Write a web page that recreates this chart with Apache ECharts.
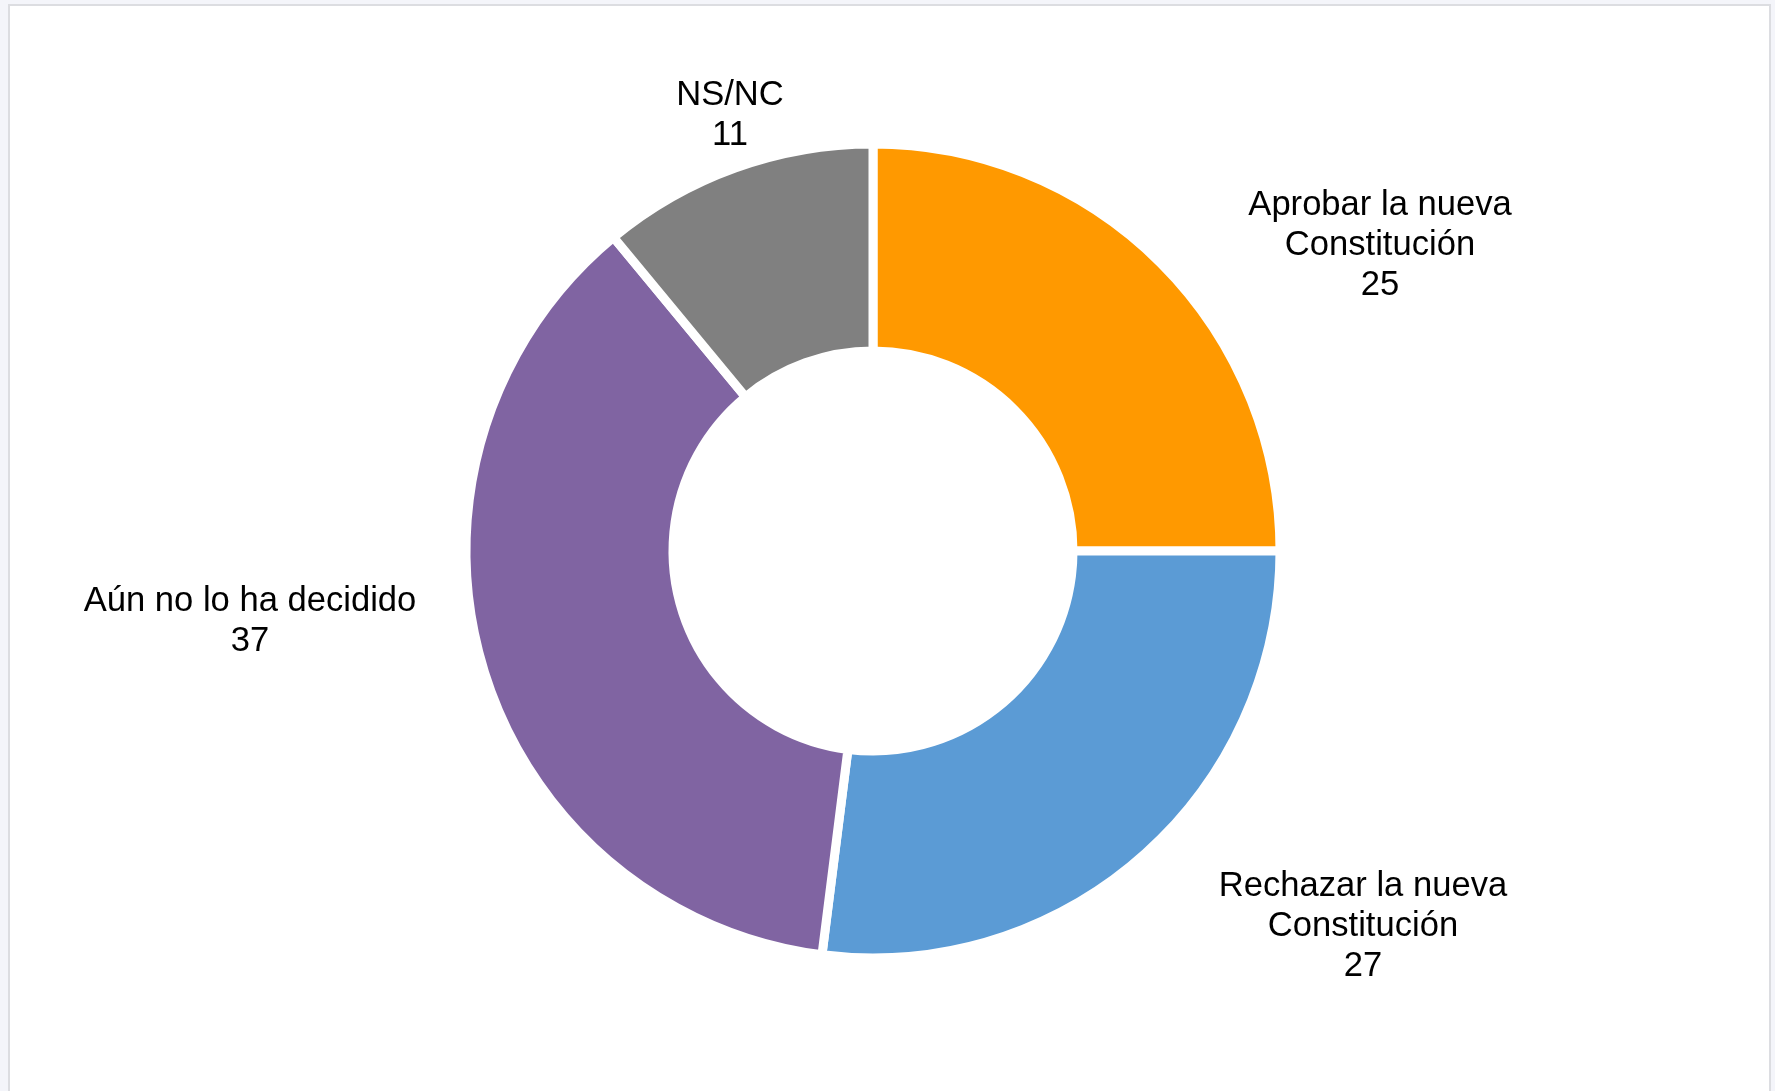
<!DOCTYPE html>
<html>
<head>
<meta charset="utf-8">
<script src="https://cdn.jsdelivr.net/npm/echarts@6/dist/echarts.min.js"></script>
<style>
  html, body { margin: 0; padding: 0; background: #f4f5fa; width: 1775px; height: 1091px; overflow: hidden; }
  #panel { position: absolute; left: 8px; top: 4px; width: 1759px; height: 1200px; background: #ffffff; border: 2px solid #dcdde1; }
  #chart { position: absolute; left: 0; top: 0; width: 1775px; height: 1091px; }
</style>
</head>
<body>
<div id="panel"></div>
<div id="chart"></div>
<script>
const categories = ['Aprobar la nueva\nConstitución', 'Rechazar la nueva\nConstitución', 'Aún no lo ha decidido', 'NS/NC'];
const values = [25, 27, 37, 11];
const colors = ['#ff9900', '#5b9bd5', '#8064a2', '#808080'];

// label block centres (layout only)
const labelCenters = [[1380, 245], [1363, 926], [250, 621], [730, 115]];

const chart = echarts.init(document.getElementById('chart'), null, { renderer: 'canvas' });
chart.setOption({
  backgroundColor: 'transparent',
  animation: false,
  series: [{
    type: 'pie',
    center: [873, 551],
    radius: [200, 407],
    startAngle: 90,
    clockwise: true,
    avoidLabelOverlap: false,
    itemStyle: { borderColor: '#ffffff', borderWidth: 9 },
    label: {
      show: true,
      position: 'outside',
      formatter: '{b}\n{c}',
      color: '#000000',
      fontFamily: 'Arial, "Liberation Sans", sans-serif',
      fontSize: 34.6,
      lineHeight: 40,
      align: 'center'
    },
    labelLine: { show: false },
    labelLayout: function (p) {
      const c = labelCenters[p.dataIndex];
      return { x: c[0], y: c[1], align: 'center', verticalAlign: 'middle' };
    },
    emphasis: { disabled: true },
    data: categories.map((n, i) => ({ name: n, value: values[i], itemStyle: { color: colors[i] } }))
  }]
});
</script>
</body>
</html>
